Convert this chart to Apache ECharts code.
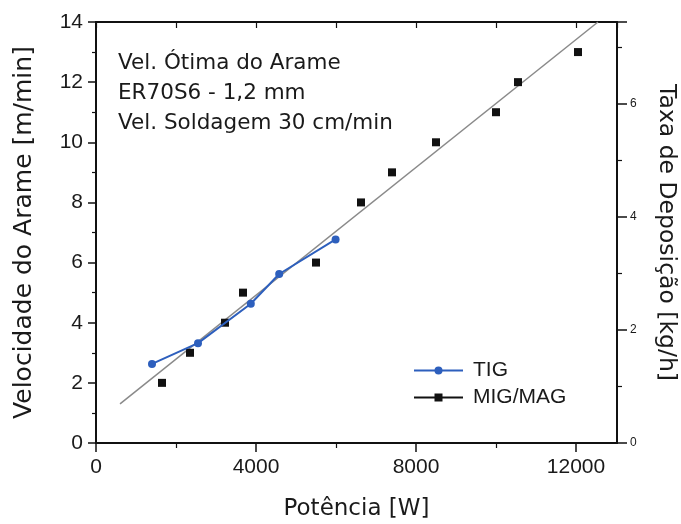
<!DOCTYPE html>
<html>
<head>
<meta charset="utf-8">
<script src="https://cdn.jsdelivr.net/npm/echarts@6/dist/echarts.min.js"></script>
<style>
  html, body { margin: 0; padding: 0; background: #fff; }
  #main { width: 681px; height: 524px; }
</style>
</head>
<body>
<div id="main"></div>
<script>
// TIG (blue, connected)
var tigPower = [1400, 2550, 3870, 4580, 5990];
var tigSpeed = [2.63, 3.32, 4.63, 5.62, 6.77];
// MIG/MAG (black squares)
var migPower = [1650, 2350, 3225, 3675, 5500, 6625, 7400, 8500, 10000, 10550, 12050];
var migSpeed = [2, 3, 4, 5, 6, 8, 9, 10, 11, 12, 13];
// linear fit line, two end points
var fitPower = [600, 12550];
var fitSpeed = [1.3, 14];

var xTicks = [0, 4000, 8000, 12000];
var noteLines = ['Vel. Ótima do Arame', 'ER70S6 - 1,2 mm', 'Vel. Soldagem 30 cm/min'];

var pair = function (xs, ys) {
    var out = [];
    for (var i = 0; i < xs.length; i++) out.push([xs[i], ys[i]]);
    return out;
};
var plain = function (v) { return String(v); };

var sans = 'Liberation Sans, Arial, sans-serif';
var wide = 'DejaVu Sans, sans-serif';
var ink = '#1a1a1a';

var chart = echarts.init(document.getElementById('main'));
chart.setOption({
    animation: false,
    backgroundColor: '#fff',
    textStyle: { fontFamily: sans },
    title: {
        text: noteLines.join('\n'),
        left: 118, top: 48, padding: 0,
        textStyle: { fontSize: 21.5, fontWeight: 'normal', color: ink, lineHeight: 30, fontFamily: wide }
    },
    grid: { left: 96, right: 64, top: 22, bottom: 81, outerBoundsMode: 'none' },
    legend: {
        orient: 'vertical',
        left: 413, top: 360, padding: 0,
        itemWidth: 49, itemHeight: 10, itemGap: 6,
        textStyle: { fontSize: 21, color: ink, fontFamily: sans, padding: [0, 0, 0, 5] },
        data: [
            { name: 'TIG' },
            { name: 'MIG/MAG', lineStyle: { color: '#111', width: 2, opacity: 1 } }
        ]
    },
    xAxis: [{
        type: 'value', min: 0, max: 13025, interval: 4000,
        name: 'Potência [W]', nameLocation: 'middle', nameGap: 55,
        nameTextStyle: { fontSize: 23, color: ink, fontFamily: wide },
        axisLine: { onZero: false, lineStyle: { color: '#111', width: 2 } },
        axisTick: { length: 9, customValues: xTicks, lineStyle: { color: '#111', width: 1.5 } },
        minorTick: { show: true, splitNumber: 2, length: 5, lineStyle: { color: '#111', width: 1.2 } },
        axisLabel: { fontSize: 21, color: ink, margin: 14, customValues: xTicks, formatter: plain },
        splitLine: { show: false }
    }, {
        type: 'value', position: 'top', min: 0, max: 13025, interval: 2000,
        axisLine: { onZero: false, lineStyle: { color: '#111', width: 2 } },
        axisTick: { inside: true, length: 6, lineStyle: { color: '#111', width: 1.2 } },
        axisLabel: { show: false },
        splitLine: { show: false }
    }],
    yAxis: [{
        type: 'value', min: 0, max: 14, interval: 2,
        name: 'Velocidade do Arame [m/min]', nameLocation: 'middle', nameGap: 59,
        nameTextStyle: { fontSize: 25, color: ink, fontFamily: wide },
        axisLine: { show: true, onZero: false, lineStyle: { color: '#111', width: 2 } },
        axisTick: { length: 8, lineStyle: { color: '#111', width: 1.5 } },
        minorTick: { show: true, splitNumber: 2, length: 4, lineStyle: { color: '#111', width: 1.2 } },
        axisLabel: { fontSize: 21, color: ink, margin: 13, formatter: plain },
        splitLine: { show: false }
    }, {
        type: 'value', position: 'right', min: 0, max: 7.45, interval: 2,
        name: 'Taxa de Deposição [kg/h]', nameLocation: 'middle', nameGap: 37, nameRotate: -90,
        nameTextStyle: { fontSize: 23.5, color: ink, fontFamily: wide },
        axisLine: { show: true, onZero: false, lineStyle: { color: '#111', width: 2 } },
        axisTick: { length: 10, lineStyle: { color: '#111', width: 1.5 } },
        minorTick: { show: true, splitNumber: 2, length: 5, lineStyle: { color: '#111', width: 1.2 } },
        axisLabel: { fontSize: 12, color: ink, margin: 13, showMaxLabel: false, formatter: plain },
        splitLine: { show: false }
    }],
    series: [
        {
            name: 'fit', type: 'line', data: pair(fitPower, fitSpeed),
            symbol: 'none', silent: true,
            lineStyle: { color: '#8a8a8a', width: 1.5 },
            z: 1
        },
        {
            name: 'TIG', type: 'line', data: pair(tigPower, tigSpeed),
            symbol: 'circle', symbolSize: 8,
            itemStyle: { color: '#2d5fbd' },
            lineStyle: { color: '#2d5fbd', width: 2 },
            z: 3
        },
        {
            name: 'MIG/MAG', type: 'line', data: pair(migPower, migSpeed),
            symbol: 'rect', symbolSize: 8,
            itemStyle: { color: '#111' },
            lineStyle: { width: 0, opacity: 0 },
            z: 2
        }
    ]
});
</script>
</body>
</html>
